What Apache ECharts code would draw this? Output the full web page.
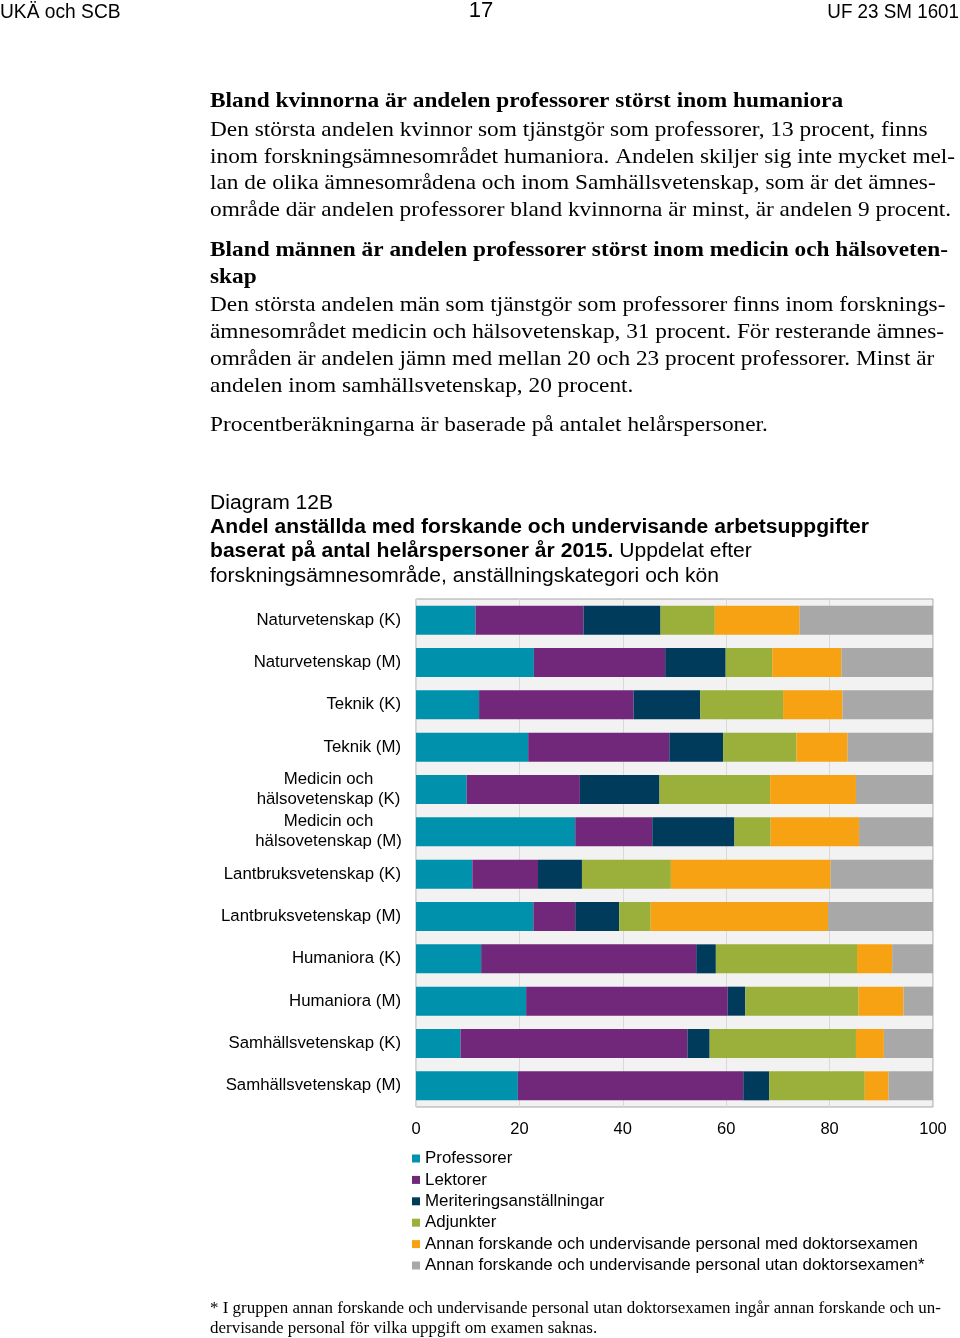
<!DOCTYPE html>
<html>
<head>
<meta charset="utf-8">
<script src="https://cdn.jsdelivr.net/npm/echarts@6/dist/echarts.min.js"></script>
<style>
html,body{margin:0;padding:0;background:#fff;}
#chart{width:960px;height:1338px;}
</style>
</head>
<body>
<div id="chart"></div>
<script>
const categories = ['Naturvetenskap (K)','Naturvetenskap (M)','Teknik (K)','Teknik (M)','Medicin och\nhälsovetenskap (K)','Medicin och\nhälsovetenskap (M)','Lantbruksvetenskap (K)','Lantbruksvetenskap (M)','Humaniora (K)','Humaniora (M)','Samhällsvetenskap (K)','Samhällsvetenskap (M)'];
const seriesNames = ['Professorer','Lektorer','Meriteringsanställningar','Adjunkter','Annan forskande och undervisande personal med doktorsexamen','Annan forskande och undervisande personal utan doktorsexamen*'];
const professorer = [11.5, 22.8, 12.2, 21.7, 9.8, 30.8, 10.9, 22.7, 12.6, 21.3, 8.6, 19.7];
const lektorer    = [20.9, 25.4, 29.9, 27.3, 21.9, 14.9, 12.7, 8.1, 41.6, 39.0, 43.9, 43.6];
const meritering  = [14.9, 11.7, 12.9, 10.4, 15.4, 15.9, 8.5, 8.5, 3.8, 3.4, 4.3, 5.0];
const adjunkter   = [10.5, 9.0, 16.0, 14.2, 21.4, 7.0, 17.2, 6.1, 27.3, 21.9, 28.3, 18.5];
const annanMed    = [16.4, 13.4, 11.5, 9.9, 16.6, 17.1, 30.9, 34.3, 6.8, 8.7, 5.4, 4.6];
const annanUtan   = [25.8, 17.7, 17.5, 16.5, 14.9, 14.3, 19.8, 20.3, 7.9, 5.7, 9.5, 8.6];
const xTicks = [0, 20, 40, 60, 80, 100];
const colors = ['#0091AD','#72287A','#003B5C','#9BB03B','#F7A212','#A8A8A8'];

const SANS = '"Liberation Sans", Arial, sans-serif';
const SERIF = '"Liberation Serif", "Times New Roman", serif';

const values = [professorer, lektorer, meritering, adjunkter, annanMed, annanUtan];

function txt(text, x, y, opts) {
  opts = opts || {};
  const el = {
    type: 'text', silent: true,
    x: x, y: y,
    scaleX: opts.sx || 1, scaleY: 1,
    originX: 0, originY: 0,
    style: Object.assign({
      text: text, x: 0, y: 0,
      font: (opts.weight || 'normal') + ' ' + (opts.size || 20) + 'px ' + (opts.family || SANS),
      fill: '#000',
      align: opts.align || 'left', textAlign: opts.align || 'left',
      verticalAlign: 'middle', textVerticalAlign: 'middle'
    }, opts.rich ? {rich: opts.rich} : {})
  };
  return el;
}

const bodyLines = [
  ['Bland kvinnorna är andelen professorer störst inom humaniora', 100, 'bold'],
  ['Den största andelen kvinnor som tjänstgör som professorer, 13 procent, finns', 129],
  ['inom forskningsämnesområdet humaniora. Andelen skiljer sig inte mycket mel-', 156],
  ['lan de olika ämnesområdena och inom Samhällsvetenskap, som är det ämnes-', 182],
  ['område där andelen professorer bland kvinnorna är minst, är andelen 9 procent.', 209],
  ['Bland männen är andelen professorer störst inom medicin och hälsoveten-', 249, 'bold'],
  ['skap', 276, 'bold'],
  ['Den största andelen män som tjänstgör som professorer finns inom forsknings-', 304],
  ['ämnesområdet medicin och hälsovetenskap, 31 procent. För resterande ämnes-', 331],
  ['områden är andelen jämn med mellan 20 och 23 procent professorer. Minst är', 358],
  ['andelen inom samhällsvetenskap, 20 procent.', 385],
  ['Procentberäkningarna är baserade på antalet helårspersoner.', 424]
];

const graphics = [
  txt('UKÄ och SCB', 0, 12, {size: 20, sx: 0.96}),
  txt('17', 481, 11, {size: 22, align: 'center'}),
  txt('UF 23 SM 1601', 959, 12, {size: 20, align: 'right', sx: 0.94})
];
bodyLines.forEach(l => graphics.push(txt(l[0], 210, l[1] + 1.5, {size: 21, family: SERIF, weight: l[2] || 'normal', sx: 1.11})));
graphics.push(txt('Diagram 12B', 210, 503, {size: 20, sx: 1.055}));
graphics.push(txt('Andel anställda med forskande och undervisande arbetsuppgifter', 210, 527, {size: 20, weight: 'bold', sx: 1.055}));
graphics.push(txt('{b|baserat på antal helårspersoner år 2015.} Uppdelat efter', 210, 551, {size: 20, sx: 1.055, rich: {b: {fontWeight: 'bold', fontSize: 20, fontFamily: SANS}}}));
graphics.push(txt('forskningsämnesområde, anställningskategori och kön', 210, 576, {size: 20, sx: 1.055}));
graphics.push(txt('* I gruppen annan forskande och undervisande personal utan doktorsexamen ingår annan forskande och un-', 210, 1309, {size: 16, family: SERIF, sx: 1.06}));
graphics.push(txt('dervisande personal för vilka uppgift om examen saknas.', 210, 1329, {size: 16, family: SERIF, sx: 1.06}));

const chart = echarts.init(document.getElementById('chart'), null, {renderer: 'canvas'});
chart.setOption({
  animation: false,
  backgroundColor: '#fff',
  color: colors,
  textStyle: {fontFamily: SANS},
  grid: {
    left: 416, right: 27, top: 599, height: 508,
    show: true, backgroundColor: '#F2F2F2', borderColor: '#A6A6A6', borderWidth: 1,
    containLabel: false
  },
  legend: {
    orient: 'vertical', left: 407, top: 1145, padding: 5,
    icon: 'rect', itemWidth: 8, itemHeight: 8, itemGap: 4.4,
    textStyle: {fontSize: 16.9, color: '#000', fontFamily: SANS, lineHeight: 16},
    data: seriesNames
  },
  xAxis: {
    type: 'value', min: 0, max: 100, interval: 20,
    axisLine: {show: false}, axisTick: {show: false},
    splitLine: {show: true, lineStyle: {color: '#D9D9D9', width: 1}},
    axisLabel: {fontSize: 16.5, color: '#000', margin: 14,
      formatter: v => xTicks.indexOf(v) >= 0 ? String(v) : ''}
  },
  yAxis: {
    type: 'category', data: categories, inverse: true,
    axisLine: {show: false}, axisTick: {show: false},
    axisLabel: {
      fontSize: 16.8, color: '#000', margin: 15, lineHeight: 20,
      formatter: v => v.indexOf('\n') >= 0 ? v.split('\n').map(s => '{c|' + s + '}').join('\n') : v,
      rich: {c: {width: 145, align: 'center', fontSize: 16.8, lineHeight: 20, color: '#000', fontFamily: SANS}}
    }
  },
  series: seriesNames.map((name, i) => ({
    name: name, type: 'bar', stack: 'total', barWidth: 29,
    data: values[i],
    itemStyle: {color: colors[i]}
  })),
  graphic: {elements: graphics}
});
</script>
</body>
</html>
